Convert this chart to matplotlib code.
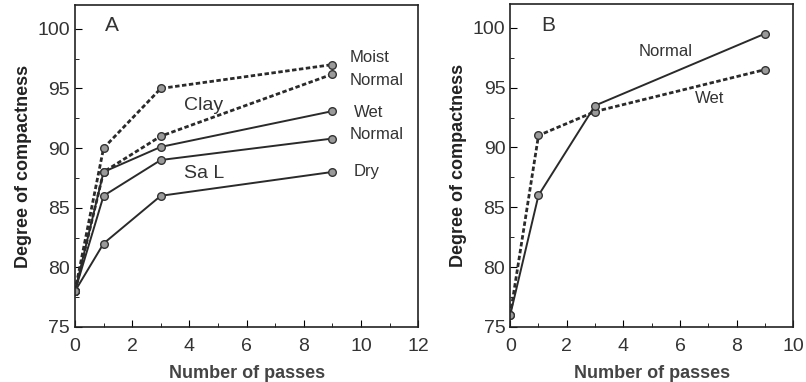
import matplotlib
matplotlib.use("Agg")
import matplotlib.pyplot as plt
from matplotlib.ticker import MultipleLocator

plt.rcParams["font.family"] = ["Liberation Sans", "DejaVu Sans"]

passes = [0, 1, 3, 9]

# panel A
clay_moist = [78, 90, 95, 97]
clay_normal = [78, 88, 91, 96.2]
sal_wet = [78, 88, 90.1, 93.1]
sal_normal = [78, 86, 89, 90.8]
sal_dry = [78, 82, 86, 88]

# panel B
b_normal = [76, 86, 93.5, 99.5]
b_wet = [76, 91, 93, 96.5]

line_col = "#2a2a2a"
dotted = (0, (1.6, 0.9))
mk = dict(marker="o", markersize=5.5, markerfacecolor="#9a9a9a",
          markeredgecolor="#333333", markeredgewidth=1.0)

fig = plt.figure(figsize=(8.06, 3.82), dpi=100)
axA = fig.add_axes([0.093, 0.144, 0.426, 0.843])
axB = fig.add_axes([0.633, 0.144, 0.351, 0.846])

axA.plot(passes, clay_moist, color=line_col, lw=2.0, linestyle=dotted, **mk)
axA.plot(passes, clay_normal, color=line_col, lw=2.0, linestyle=dotted, **mk)
axA.plot(passes, sal_wet, color=line_col, lw=1.4, **mk)
axA.plot(passes, sal_normal, color=line_col, lw=1.4, **mk)
axA.plot(passes, sal_dry, color=line_col, lw=1.4, **mk)

axB.plot(passes, b_wet, color=line_col, lw=2.0, linestyle=dotted, **mk)
axB.plot(passes, b_normal, color=line_col, lw=1.4, **mk)

axA.set_xlim(0, 12)
axB.set_xlim(0, 10)
for ax in (axA, axB):
    ax.set_ylim(75, 102)
    ax.xaxis.set_major_locator(MultipleLocator(2))
    ax.xaxis.set_minor_locator(MultipleLocator(1))
    ax.yaxis.set_major_locator(MultipleLocator(5))
    ax.yaxis.set_minor_locator(MultipleLocator(2.5))
    ax.tick_params(which="both", direction="in", top=False, right=False,
                   labelsize=14, labelcolor="#333333")
    ax.tick_params(which="major", length=5)
    ax.tick_params(which="minor", length=3)
    ax.tick_params(axis="x", pad=8)
    for s in ax.spines.values():
        s.set_linewidth(1.2)
        s.set_color("#222222")
    ax.set_xlabel("Number of passes", fontsize=13, fontweight="bold",
                  color="#444444", labelpad=7)
    ax.set_ylabel("Degree of compactness", fontsize=13, fontweight="bold", color="#222222")

# annotations panel A
axA.text(1.3, 100.3, "A", fontsize=15, color="#333333", ha="center", va="center")
axA.text(9.6, 97.6, "Moist", fontsize=12, color="#333333", va="center")
axA.text(9.6, 95.7, "Normal", fontsize=12, color="#333333", va="center")
axA.text(9.75, 93.0, "Wet", fontsize=12, color="#333333", va="center")
axA.text(9.6, 91.1, "Normal", fontsize=12, color="#333333", va="center")
axA.text(9.75, 88.0, "Dry", fontsize=12, color="#333333", va="center")
axA.text(4.5, 93.6, "Clay", fontsize=14, color="#333333", ha="center", va="center")
axA.text(4.5, 87.9, "Sa L", fontsize=14, color="#333333", ha="center", va="center")

# annotations panel B
axB.text(1.34, 100.2, "B", fontsize=15, color="#333333", ha="center", va="center")
axB.text(5.5, 98.0, "Normal", fontsize=12, color="#333333", ha="center", va="center")
axB.text(7.06, 94.1, "Wet", fontsize=12, color="#333333", ha="center", va="center")

fig.savefig("out.png", dpi=100)
